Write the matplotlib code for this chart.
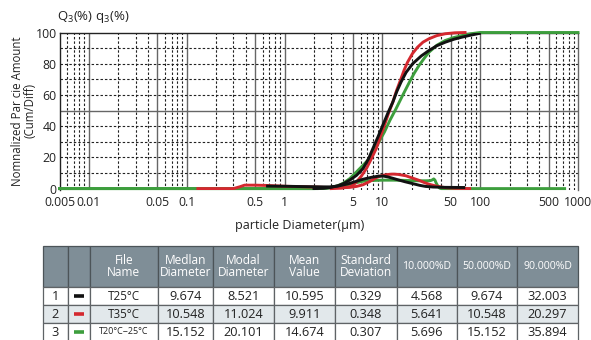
import numpy as np
import matplotlib.pyplot as plt

plt.rcParams['font.family'] = ['Open Sans', 'DejaVu Sans']
plt.rcParams['mathtext.fontset'] = 'custom'
plt.rcParams['mathtext.rm'] = 'Open Sans'

# cumulative curves Q3 (%)
black_cum_x = [2.0, 2.5, 3.0, 3.5, 4.0, 4.66, 5.44, 6.35, 7.2, 8.0, 9.0, 10.1, 11.4, 12.8,
               14.0, 15.5, 17.5, 20.4, 25, 30, 36, 44, 54, 65, 80, 98]
black_cum_y = [0, 0.2, 0.8, 1.8, 3.2, 5.5, 8.5, 12.9, 19, 25.7, 33, 40.6, 48.5, 55.5,
               62, 68.2, 74.5, 80, 85, 88.5, 91.5, 93.8, 95.7, 97, 98.3, 99.4]
red_cum_x = [3.0, 3.8, 4.66, 5.0, 5.44, 6.1, 6.87, 7.7, 8.66, 9.5, 10.5, 11.6, 12.8, 14.0,
             15.5, 16.7, 18.1, 20.3, 22.9, 26, 30, 36, 44, 55, 70]
red_cum_y = [0, 0.3, 1.2, 2.2, 4.3, 8, 12.9, 19, 25.7, 33, 40.6, 48.5, 55.5, 63,
             70.4, 76, 81, 86.5, 90.6, 93.8, 96, 98, 99.2, 99.8, 100]
green_cum_x = [0.005, 2.0, 2.5, 2.9, 3.5, 4.0, 4.66, 5.44, 6.35, 7.4, 8.7, 10.5, 12, 13.8,
               16.2, 18.9, 21.2, 23.7, 26.8, 30, 36, 44, 54, 65, 80, 100, 1000]
green_cum_y = [0, 0, 0.2, 0.6, 1.8, 3.5, 6.5, 10.7, 15, 19.3, 27, 36.3, 44, 51.2,
               60, 68.2, 74, 78.9, 83.5, 87.4, 91.8, 94.9, 96.8, 98, 99.2, 100, 100]

# frequency curves q3 (%)
black_freq_x = [0.67, 1.0, 1.5, 2.0, 2.5, 2.9, 3.5, 4.0, 4.66, 5.44, 6.35, 7.2, 8.0, 9.0,
                10.1, 11.5, 12.8, 14.5, 17, 20.4, 24, 27.6, 33, 44, 68]
black_freq_y = [1.6, 1.5, 1.3, 1.2, 1.1, 1.1, 1.6, 2.4, 3.4, 4.7, 6.0, 6.8, 7.4, 7.9,
                8.1, 7.4, 6.6, 5.6, 4.4, 3.2, 2.1, 1.4, 1.0, 0.8, 0.7]
red_freq_x = [0.13, 0.3, 0.35, 0.39, 0.5, 0.67, 1.0, 2.0, 3.0, 4.0, 4.66, 5.44, 6.35, 7.4,
              8.66, 9.5, 10.5, 11.6, 12.8, 14.5, 17.4, 20, 23.7, 27, 30, 36, 44, 55, 78]
red_freq_y = [0, 0, 1.2, 2.2, 2.2, 2.0, 1.5, 1.0, 0.6, 0.6, 0.8, 1.4, 2.5, 4.5,
              7.0, 8.0, 8.7, 9.1, 9.3, 9.1, 8.2, 6.9, 5.3, 3.8, 2.8, 1.5, 0.6, 0.2, 0]
green_freq_x = [0.005, 2.2, 2.6, 3.0, 3.8, 4.66, 5.44, 6.35, 7.4, 8.7, 10.1, 13, 16.3, 20,
                23.7, 28, 31, 32.5, 33.5, 34.5, 35.5, 37, 38.5, 40, 730]
green_freq_y = [0, 0, 0.2, 0.5, 1.5, 2.8, 3.8, 4.7, 5.1, 5.3, 5.4, 5.4, 5.3, 5.1,
                5.0, 5.0, 5.1, 5.6, 6.2, 5.4, 3.5, 1.5, 0.3, 0, 0]

xtick_vals = [0.005, 0.01, 0.05, 0.1, 0.5, 1, 5, 10, 50, 100, 500, 1000]
xtick_labels = ['0.005', '0.01', '0.05', '0.1', '0.5', '1', '5', '10', '50', '100', '500', '1000']
ytick_vals = [0, 20, 40, 60, 80, 100]

# table
col_labels = ['', '', 'File\nName', 'Medlan\nDiameter', 'Modal\nDiameter', 'Mean\nValue',
              'Standard\nDeviation', '10.000%D', '50.000%D', '90.000%D']
row_ids = ['1', '2', '3']
file_names = ['T25°C', 'T35°C', 'T20°C~25°C']
median_d = ['9.674', '10.548', '15.152']
modal_d = ['8.521', '11.024', '20.101']
mean_v = ['10.595', '9.911', '14.674']
std_dev = ['0.329', '0.348', '0.307']
d10 = ['4.568', '5.641', '5.696']
d50 = ['9.674', '10.548', '15.152']
d90 = ['32.003', '20.297', '35.894']
col_px = [24.7, 22.3, 67.7, 55.3, 61, 61, 61.7, 60, 60.3, 61]

BLACK = '#111111'
RED = '#d4282f'
GREEN = '#3d9e3d'
series_colors = [BLACK, RED, GREEN]

fig = plt.figure(figsize=(5.91, 3.40), dpi=100)
ax = fig.add_axes([59.5 / 591, 1 - 190 / 340, (578 - 59.5) / 591, (190 - 32.5) / 340])
ax.set_xscale('log')
ax.set_xlim(0.005, 1000)
ax.set_ylim(-0.9, 100)

# grid
for e in range(-3, 3):
    for m in range(1, 10):
        v = m * 10.0 ** e
        if v <= 0.005 or v >= 1000:
            continue
        if m in (1, 5):
            ax.axvline(v, color='#666666', lw=1.0, zorder=1)
        else:
            ax.axvline(v, color='#222222', lw=0.8, ls=(0, (2.2, 1.8)), zorder=1)
for v in range(10, 100, 10):
    if v == 50:
        ax.axhline(v, color='#666666', lw=1.0, zorder=1)
    else:
        ax.axhline(v, color='#222222', lw=0.8, ls=(0, (2.2, 1.8)), zorder=1)

lw = 2.1
ax.plot(green_freq_x, green_freq_y, color=GREEN, lw=lw, zorder=3, clip_on=False)
ax.plot(green_cum_x, green_cum_y, color=GREEN, lw=lw, zorder=3, clip_on=False)
ax.plot(red_freq_x, red_freq_y, color=RED, lw=lw, zorder=4)
ax.plot(red_cum_x, red_cum_y, color=RED, lw=lw, zorder=4, clip_on=False)
ax.plot(black_freq_x, black_freq_y, color=BLACK, lw=lw, zorder=5)
ax.plot(black_cum_x, black_cum_y, color=BLACK, lw=lw, zorder=5)

ax.set_xticks(xtick_vals)
ax.set_xticklabels(xtick_labels)
ax.xaxis.set_minor_locator(plt.NullLocator())
ax.set_yticks(ytick_vals)
ax.tick_params(axis='both', length=0, labelsize=8.8, colors='#222222')
ax.tick_params(axis='x', pad=4)
ax.tick_params(axis='y', pad=2)

ax.spines['left'].set_color('#222222')
ax.spines['top'].set_color('#222222')
ax.spines['right'].set_color('#666666')
ax.spines['bottom'].set_visible(False)
for s in ax.spines.values():
    s.set_linewidth(1.0)

fig.text(57 / 591, 1 - 17 / 340, 'Q$_3$(%) q$_3$(%)', fontsize=9.5, color='#222222',
         ha='left', va='center')
fig.text(24 / 591, 1 - 111 / 340, 'Nomnalized Par cie Amount\n(Cum/Diff)', fontsize=8.3,
         color='#222222', rotation=90, ha='center', va='center', linespacing=1.0)
fig.text(300 / 591, 1 - 225 / 340, 'particle Diameter(μm)', fontsize=9,
         color='#222222', ha='center', va='center')

# table
tax = fig.add_axes([43 / 591, -1 / 340, 535 / 591, 95 / 340])
tax.axis('off')
tax.set_xlim(0, 1)
tax.set_ylim(0, 1)
cell_text = [list(r) for r in zip(row_ids, ['', '', ''], file_names, median_d, modal_d,
                                     mean_v, std_dev, d10, d50, d90)]
widths = np.array(col_px) / sum(col_px)
tbl = tax.table(cellText=cell_text, colLabels=col_labels, colWidths=widths,
                cellLoc='center', bbox=[0, 0, 1, 1])
tbl.auto_set_font_size(False)
header_h, row_h = 41, 18
for (r, c), cell in tbl.get_celld().items():
    cell.set_linewidth(0.9)
    txt = cell.get_text()
    if r == 0:
        cell.set_height(header_h)
        cell.set_facecolor('#7f8e97')
        cell.set_edgecolor('#4c5458')
        txt.set_color('white')
        txt.set_linespacing(0.85)
        txt.set_fontsize(7.6 if '%D' in col_labels[c] else 8.6)
    else:
        cell.set_height(row_h)
        cell.set_facecolor('#e2e8eb' if r == 2 else 'white')
        cell.set_edgecolor('#5f6366')
        txt.set_color('#222222')
        txt.set_fontsize(9.2)
        if c == 2:
            txt.set_fontsize(8.4 if r < 3 else 6.5)

total_h = header_h + 3 * row_h
x_leg = (col_px[0] + col_px[1] / 2) / sum(col_px)
for i, col in enumerate(series_colors):
    yc = (total_h - header_h - row_h * (i + 0.5)) / total_h
    tax.plot([x_leg - 0.009, x_leg + 0.009], [yc, yc], color=col, lw=2.6,
             solid_capstyle='butt', zorder=10)

fig.savefig('out.png', dpi=100)
